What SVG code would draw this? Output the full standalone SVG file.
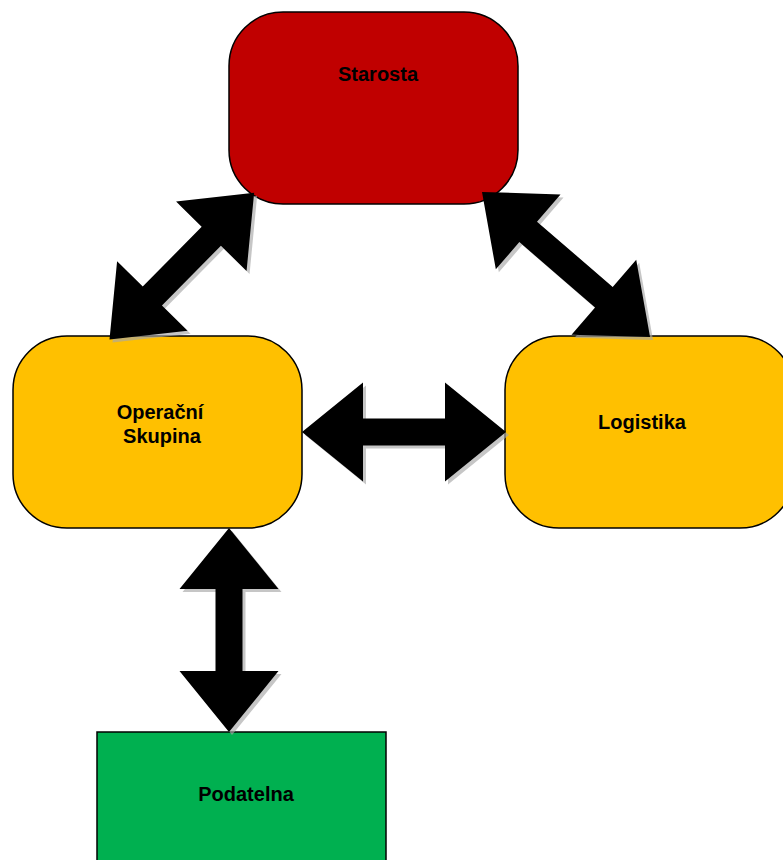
<svg xmlns="http://www.w3.org/2000/svg" xmlns:xlink="http://www.w3.org/1999/xlink" width="783" height="860" viewBox="0 0 783 860">
  <style>
    .box { stroke: #000; stroke-width: 1.5; }
    .lbl { font-family: "Liberation Sans", Arial, sans-serif; font-weight: bold; font-size: 20px; fill: #000; text-anchor: middle; }
    .arrow { fill: #000; }
    .shadow { fill: #a8a8a8; fill-opacity: 0.65; }
  </style>
  <defs>
    <path id="arr204" d="M0,0 L61,-49.5 L61,-13.5 L143,-13.5 L143,-49.5 L204,0 L143,49.5 L143,13.5 L61,13.5 L61,49.5 Z"/>
    <path id="arr206" d="M0,0 L61,-49.5 L61,-13.5 L145,-13.5 L145,-49.5 L206,0 L145,49.5 L145,13.5 L61,13.5 L61,49.5 Z"/>
    <path id="arr222" d="M0,0 L61,-49.5 L61,-13.5 L161,-13.5 L161,-49.5 L222,0 L161,49.5 L161,13.5 L61,13.5 L61,49.5 Z"/>
  </defs>
  <rect width="783" height="860" fill="#fff"/>

  <g id="starosta">
    <rect class="box" x="229" y="12" width="289" height="192" rx="54" ry="54" fill="#C00000"/>
    <text class="lbl" x="378" y="81">Starosta</text>
  </g>
  <g id="operacni">
    <rect class="box" x="13" y="336" width="289" height="192" rx="54" ry="54" fill="#FFC000"/>
    <text class="lbl" x="160" y="419">Operační</text>
    <text class="lbl" x="162" y="443">Skupina</text>
  </g>
  <g id="logistika">
    <rect class="box" x="505" y="336" width="289" height="192" rx="54" ry="54" fill="#FFC000"/>
    <text class="lbl" x="642" y="429">Logistika</text>
  </g>
  <g id="podatelna">
    <rect class="box" x="97" y="732" width="289" height="192" fill="#00B050"/>
    <text class="lbl" x="246" y="801">Podatelna</text>
  </g>

  <g id="connectors">
    <g id="c-starosta-operacni">
      <g class="shadow" transform="translate(3,3)"><use xlink:href="#arr206" transform="translate(109.5,339.5) rotate(-45.4)"/></g>
      <use class="arrow" xlink:href="#arr206" transform="translate(109.5,339.5) rotate(-45.4)"/>
    </g>
    <g id="c-starosta-logistika">
      <g class="shadow" transform="translate(3,3)"><use xlink:href="#arr222" transform="translate(482,192) rotate(40.8)"/></g>
      <use class="arrow" xlink:href="#arr222" transform="translate(482,192) rotate(40.8)"/>
    </g>
    <g id="c-operacni-logistika">
      <g class="shadow" transform="translate(3,3)"><use xlink:href="#arr204" transform="translate(302,432)"/></g>
      <use class="arrow" xlink:href="#arr204" transform="translate(302,432)"/>
    </g>
    <g id="c-operacni-podatelna">
      <g class="shadow" transform="translate(3,3)"><use xlink:href="#arr204" transform="translate(229,528) rotate(90)"/></g>
      <use class="arrow" xlink:href="#arr204" transform="translate(229,528) rotate(90)"/>
    </g>
  </g>
</svg>
